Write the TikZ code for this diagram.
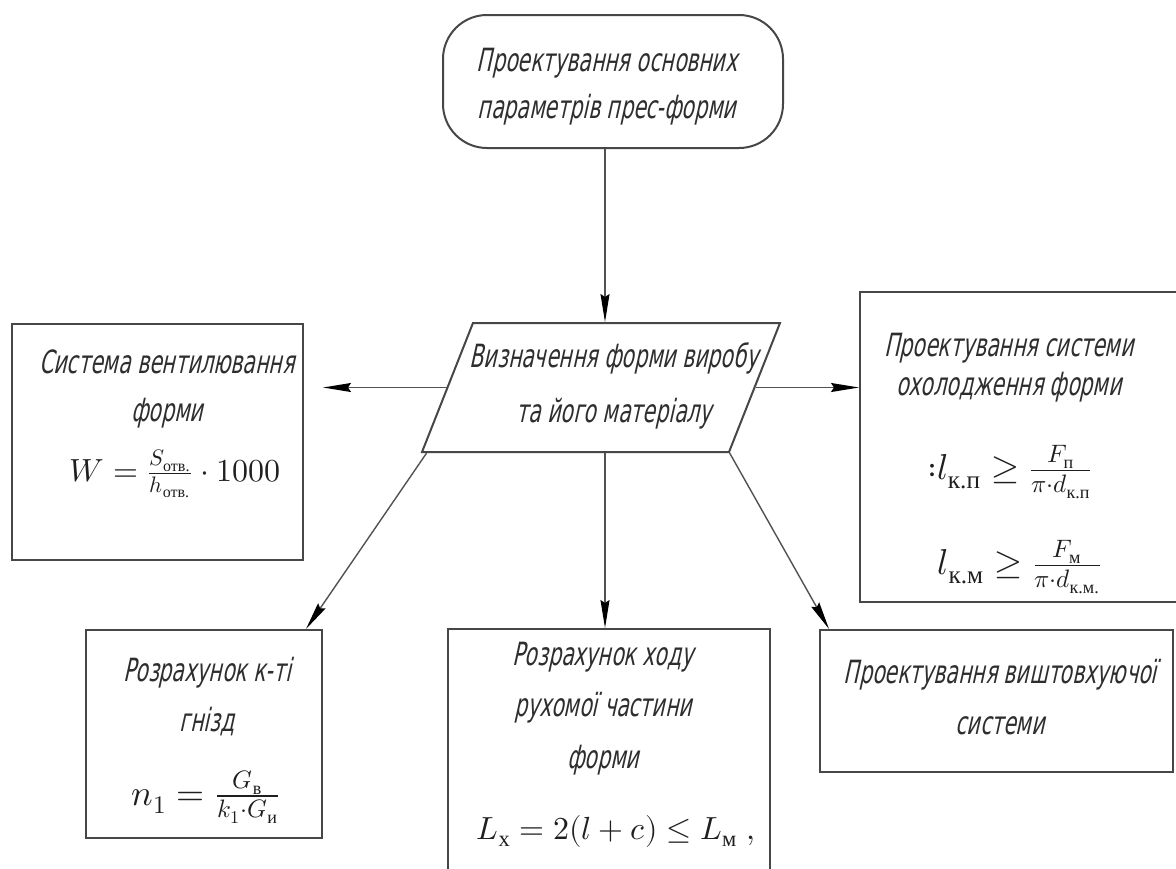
\documentclass[tikz,border=0pt]{standalone}
\usepackage{amsmath}
\usepackage{fontspec}
\usepackage{unicode-math}
\newfontfamily\gost[FakeSlant=0.22,FakeStretch=0.64]{DejaVu Sans}
\newfontfamily\cyrs{Liberation Serif}
\usetikzlibrary{arrows.meta}
\tikzset{
  boxline/.style={draw=black!72, line width=1pt, inner sep=0pt},
  rbox/.style={boxline, rectangle},
  arr/.style={draw=black!68, line width=0.7pt, -{Stealth[length=14pt,width=4.5pt,inset=1.5pt,color=black]}},
  lbl/.style={inner sep=0pt, align=center, text=black!82},
  frm/.style={inner sep=0pt, text=black!88},
}
\newcommand{\cy}[1]{\text{\cyrs #1}}
\begin{document}
\begin{tikzpicture}[x=0.5pt,y=-0.5pt]
\useasboundingbox (0,0) rectangle (1176,868);
\fill[white] (0,0) rectangle (1176,868);
\coordinate (axis) at (605,0);
% shapes
\node[rbox, rounded corners=22pt, minimum width=170pt, minimum height=66.5pt] (top) at (613,81.5) {};
\begin{scope}[shift={(601,387.5)}]
\node[rbox, xslant=0.395, transform shape, minimum width=153.5pt, minimum height=64.5pt] (para) at (0,0) {};
\end{scope}
\node[rbox, minimum width=145.5pt, minimum height=118pt] (lbox) at (157.5,442) {};
\node[rbox, minimum width=161pt, minimum height=155pt] (rbx) at (1021,447) {};
\node[rbox, minimum width=118pt, minimum height=104pt] (bl) at (204,734) {};
\node[rbox, minimum width=161pt, minimum height=121.5pt] (mbox) at (609,750.5) {};
\node[rbox, minimum width=176.5pt, minimum height=71pt] (br) at (996.5,701) {};
% texts
\node[lbl, font=\gost\fontsize{16}{23.5}\selectfont] (ttop) at (607,86.5) {Проектування основних\\параметрів прес-форми};
\node[lbl, font=\gost\fontsize{16}{27.5}\selectfont] (tpara) at (614,385.5) {Визначення форми виробу\\та його матеріалу};
\node[lbl, font=\gost\fontsize{16}{24}\selectfont] (tl) at (167,389) {Система вентилювання\\форми};
\node[frm, font=\fontsize{16}{18}\selectfont] (fl) at (175,474) {$W=\frac{S_{\cy{отв.}}}{h_{\cy{отв.}}}\cdot 1000$};
\node[lbl, font=\gost\fontsize{16}{19.5}\selectfont] (tr) at (1009,367.5) {Проектування системи\\охолодження форми};
\node[frm, font=\fontsize{18}{20}\selectfont] (fr1) at (1010,472) {${:}l_{\cy{к.п}}\geq\frac{F_{\cy{п}}}{\pi\cdot d_{\cy{к.п}}}$};
\node[frm, font=\fontsize{18}{20}\selectfont] (fr2) at (1020,567) {$l_{\cy{к.м}}\geq\frac{F_{\cy{м}}}{\pi\cdot d_{\cy{к.м.}}}$};
\node[lbl, font=\gost\fontsize{16}{25}\selectfont] (tbl) at (207,697) {Розрахунок к-ті\\гнізд};
\node[frm, font=\fontsize{18}{20}\selectfont] (fbl) at (206,797) {$n_1=\frac{G_{\cy{в}}}{k_1\cdot G_{\cy{и}}}$};
\node[lbl, font=\gost\fontsize{16}{25.75}\selectfont] (tm) at (603,708.5) {Розрахунок ходу\\рухомої частини\\форми};
\node[frm, font=\fontsize{16}{19}\selectfont] (fm) at (616,831) {$L_{\cy{х}}=2(l+c)\leq L_{\cy{м}}\;,$};
\node[lbl, font=\gost\fontsize{16}{25.5}\selectfont] (tbr) at (1000,697.5) {Проектування виштовхуючої\\системи};
% connectors
\draw[arr] (top.south -| axis) -- (para.north -| axis);
\draw[arr, shorten >=9.5pt] (para.west) -- (para.west -| lbox.east);
\draw[arr] (para.east) -- (para.east -| rbx.west);
\draw[arr] (para.south -| axis) -- (mbox.north -| axis);
\draw[arr] ([xshift=3pt]para.south west) -- ([xshift=-8.5pt]bl.north east);
\draw[arr] (para.south east) -- ([xshift=5pt]br.north west);
\end{tikzpicture}
\end{document}
